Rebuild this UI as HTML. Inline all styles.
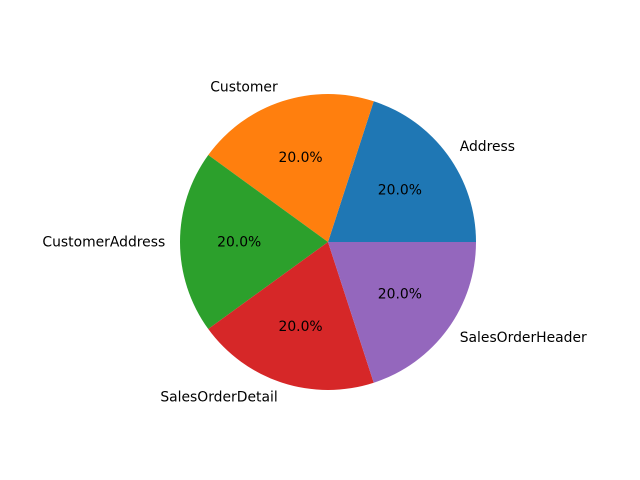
<!DOCTYPE html>
<html><head><meta charset="utf-8"><style>body{margin:0;background:#fff}svg{display:block}text{font-family:"DejaVu Sans",sans-serif;font-size:13.9px;fill:#000}</style></head>
<body>
<svg id="chart" width="640" height="480"></svg>
<script>
const categories = ["Address","Customer","CustomerAddress","SalesOrderDetail","SalesOrderHeader"];
const values = [1,1,1,1,1];
const colors = ["#1f77b4","#ff7f0e","#2ca02c","#d62728","#9467bd"];
const svg = document.getElementById('chart');
const NS = 'http://www.w3.org/2000/svg';
const cx = 328, cy = 242, r = 148;
const total = values.reduce((a,b)=>a+b,0);
let start = 0;
values.forEach((v,i)=>{
  const sweep = v/total*2*Math.PI;
  const a0 = start, a1 = start+sweep, mid = start+sweep/2;
  const x0 = cx + r*Math.cos(a0), y0 = cy - r*Math.sin(a0);
  const x1 = cx + r*Math.cos(a1), y1 = cy - r*Math.sin(a1);
  const p = document.createElementNS(NS,'path');
  p.setAttribute('d',`M${cx},${cy} L${x0},${y0} A${r},${r} 0 ${sweep>Math.PI?1:0} 0 ${x1},${y1} Z`);
  p.setAttribute('fill',colors[i]);
  
  
  svg.appendChild(p);
  const lx = cx + 1.1*r*Math.cos(mid), ly = cy - 1.1*r*Math.sin(mid);
  const t = document.createElementNS(NS,'text');
  t.setAttribute('x',lx); t.setAttribute('y',ly+4.5);
  t.setAttribute('text-anchor', Math.cos(mid)>0?'start':'end');
  t.textContent = categories[i];
  
  
  svg.appendChild(t);
  const px = cx + 0.6*r*Math.cos(mid), py = cy - 0.6*r*Math.sin(mid);
  const q = document.createElementNS(NS,'text');
  q.setAttribute('x',px); q.setAttribute('y',py+4.5);
  q.setAttribute('text-anchor','middle');
  q.textContent = (v/total*100).toFixed(1)+'%';
  
  
  svg.appendChild(q);
  start = a1;
});
</script>
</body></html>
